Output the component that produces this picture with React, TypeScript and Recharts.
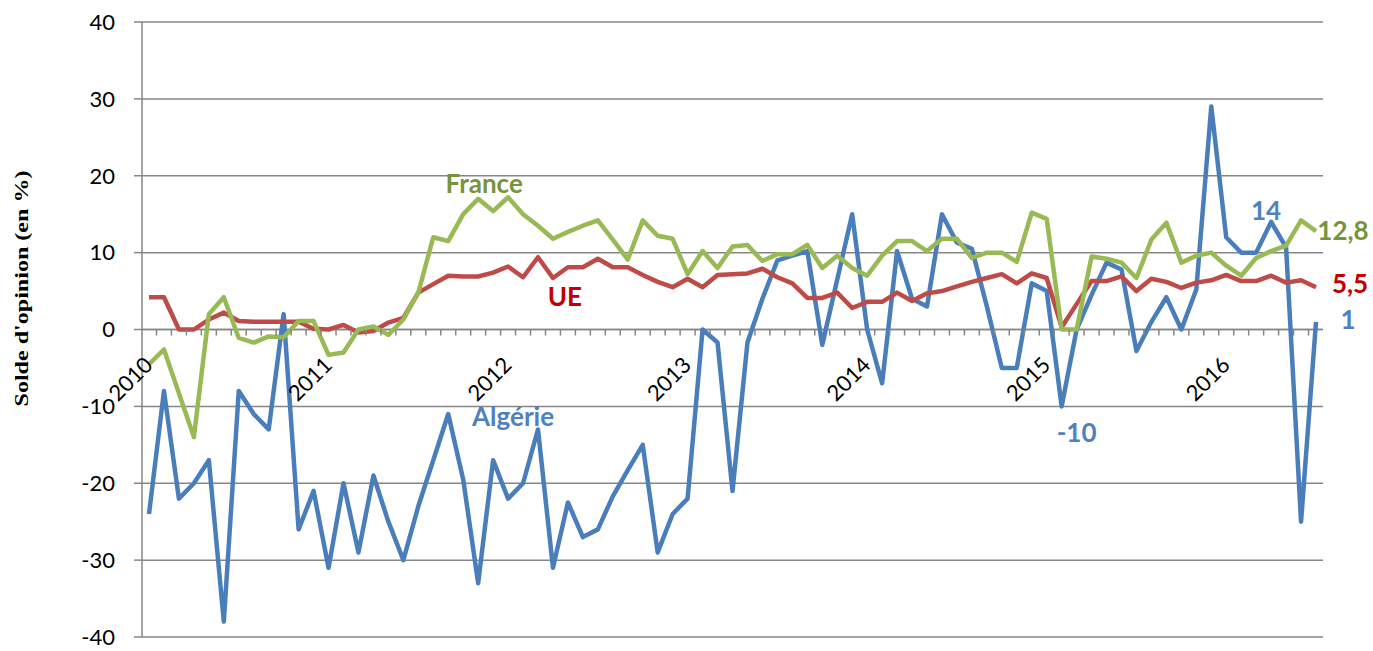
import React from 'react';
import {
  LineChart,
  Line,
  XAxis,
  YAxis,
  CartesianGrid,
  ReferenceLine,
  ReferenceDot,
} from 'recharts';

// monthly categories, Jan 2010 -> Jul 2016
const years = ['2010', '2011', '2012', '2013', '2014', '2015', '2016'];
const lastYearMonths = 7;
const months: string[] = [];
years.forEach((y, yi) => {
  const n = yi === years.length - 1 ? lastYearMonths : 12;
  for (let m = 1; m <= n; m++) months.push(`${y}-${String(m).padStart(2, '0')}`);
});

const algerie = [
  -24, -8, -22, -20, -17, -38, -8, -11, -13, 2, -26, -21,
  -31, -20, -29, -19, -25, -30, -23, -17, -11, -19.5, -33, -17,
  -22, -20, -13, -31, -22.5, -27, -26, -21.7, -18.3, -15, -29, -24,
  -22, 0, -1.7, -21, -1.7, 4, 9, 9.6, 10.2, -2, 6.5, 15,
  0, -7, 10.2, 4, 3, 15, 11.3, 10.5, 3, -5, -5, 6,
  5, -10, 0, 4.5, 8.7, 7.8, -2.8, 1, 4.2, 0, 5.2, 29,
  12, 10, 10, 14, 10.7, -25, 1,
];

const france = [
  -4.5, -2.6, -8.3, -14, 2, 4.2, -1.1, -1.7, -0.9, -1, 1.1, 1.1,
  -3.3, -3, 0, 0.4, -0.7, 1.3, 4.8, 12, 11.5, 15, 17, 15.4,
  17.2, 15, 13.5, 11.8, 12.7, 13.5, 14.2, 11.7, 9.1, 14.2, 12.2, 11.8,
  7.2, 10.2, 8, 10.8, 11, 8.9, 9.8, 9.8, 11, 8, 9.6, 8,
  7, 9.6, 11.5, 11.5, 10.2, 11.8, 11.8, 9.3, 10, 10, 8.8, 15.2,
  14.4, 0, 0, 9.5, 9.2, 8.7, 6.7, 11.7, 13.9, 8.7, 9.6, 10,
  8.3, 7, 9.3, 10.2, 10.9, 14.2, 12.8,
];

const ue = [
  4.2, 4.2, 0, 0, 1.3, 2.2, 1.1, 1, 1, 1, 1, 0.1,
  0, 0.6, -0.4, -0.2, 0.9, 1.5, 4.8, 5.9, 7, 6.9, 6.9, 7.4,
  8.2, 6.8, 9.4, 6.7, 8.1, 8.1, 9.2, 8.1, 8.1, 7.1, 6.2, 5.5,
  6.6, 5.5, 7.1, 7.2, 7.3, 7.9, 6.8, 6, 4.1, 4.1, 4.8, 2.8,
  3.6, 3.6, 4.8, 3.7, 4.7, 5, 5.6, 6.2, 6.7, 7.2, 6, 7.3,
  6.7, 0.3, 3.3, 6.3, 6.3, 6.9, 5, 6.6, 6.2, 5.4, 6.1, 6.4,
  7.1, 6.3, 6.3, 7, 6.1, 6.4, 5.5,
];

const yTicks = [-40, -30, -20, -10, 0, 10, 20, 30, 40];

const notes = [
  { text: 'France', month: '2011-11', value: 19, dx: 6, color: '#77933C' },
  { text: 'UE', month: '2012-05', value: 4.4, dx: -3, color: '#C00000' },
  { text: 'Algérie', month: '2012-01', value: -11.2, dx: 5, color: '#4F81BD' },
  { text: '-10', month: '2015-03', value: -13.3, dx: 0, color: '#4F81BD' },
  { text: '14', month: '2016-04', value: 15.5, dx: -5, color: '#4F81BD' },
  { text: '12,8', month: '2016-07', value: 13, dx: 27, color: '#77933C' },
  { text: '5,5', month: '2016-07', value: 6, dx: 34, color: '#C00000' },
  { text: '1', month: '2016-07', value: 1.4, dx: 32, color: '#4F81BD' },
];

const data = months.map((month, i) => ({
  month,
  algerie: algerie[i],
  france: france[i],
  ue: ue[i],
}));

const W = 1373;
const H = 651;
const MARGIN = { top: 22, right: 50, bottom: 13, left: 0 };
const Y_AXIS_W = 142;
const X_AXIS_H = 1;
const PAD = 7;
const PLOT_H = H - MARGIN.top - MARGIN.bottom - X_AXIS_H;
const ZERO_Y = MARGIN.top + (PLOT_H * 40) / 80;
const STEP = (W - MARGIN.right - Y_AXIS_W - 2 * PAD) / (months.length - 1);
const GRID = '#868686';
const FONT = 'Lato, "Open Sans", sans-serif';

const MonthTick = (props: any) => {
  const { x, payload, index } = props;
  const value: string = payload.value;
  const isJan = value.endsWith('-01');
  const lx = x + 5;
  const ly = ZERO_Y + 37;
  return (
    <g>
      {index < months.length - 1 && (
        <line x1={x + STEP / 2} x2={x + STEP / 2} y1={ZERO_Y} y2={ZERO_Y + 6} stroke={GRID} strokeWidth={1.5} />
      )}
      {isJan && (
        <text
          x={lx}
          y={ly}
          transform={`rotate(-45 ${lx} ${ly})`}
          textAnchor="end"
          fontSize={22}
          fontFamily={FONT}
          fill="#000"
        >
          {value.slice(0, 4)}
        </text>
      )}
    </g>
  );
};

const AxisTitle = (props: any) => {
  const vb = props.viewBox || { x: 0, y: MARGIN.top, height: PLOT_H };
  const cx = 21;
  const cy = vb.y + vb.height / 2 - 41;
  return (
    <text
      x={cx}
      y={cy}
      transform={`rotate(-90 ${cx} ${cy})`}
      textAnchor="middle"
      dominantBaseline="central"
      fontFamily='"Liberation Serif", "Times New Roman", serif'
      fontWeight="bold"
      fontSize={19}
      textLength={236}
      lengthAdjust="spacingAndGlyphs"
      fill="#000"
    >
      Solde d'opinion (en %)
    </text>
  );
};

const App: React.FC = () => {
  return (
    <div style={{ position: 'absolute', left: 0, top: 0, width: W, height: H, background: '#fff' }}>
      <LineChart width={W} height={H} data={data} margin={MARGIN}>
        <CartesianGrid vertical={false} stroke={GRID} strokeWidth={1.5} />
        <XAxis
          dataKey="month"
          height={X_AXIS_H}
          padding={{ left: PAD, right: PAD }}
          axisLine={false}
          tickLine={false}
          interval={0}
          tick={<MonthTick />}
        />
        <YAxis
          domain={[-40, 40]}
          ticks={yTicks}
          width={Y_AXIS_W}
          axisLine={{ stroke: GRID, strokeWidth: 1.5 }}
          tickLine={{ stroke: GRID, strokeWidth: 1.5 }}
          tickSize={8}
          tickMargin={19}
          tick={{ fontSize: 22, fill: '#000', fontFamily: FONT }}
          label={<AxisTitle />}
        />
        <ReferenceLine y={0} stroke={GRID} strokeWidth={1.5} />
        <Line
          type="linear"
          dataKey="algerie"
          stroke="#4A7EBB"
          strokeWidth={4.5}
          dot={false}
          strokeLinejoin="round"
          isAnimationActive={false}
        />
        <Line
          type="linear"
          dataKey="ue"
          stroke="#BE4B48"
          strokeWidth={4.5}
          dot={false}
          strokeLinejoin="round"
          isAnimationActive={false}
        />
        <Line
          type="linear"
          dataKey="france"
          stroke="#98B954"
          strokeWidth={4.5}
          dot={false}
          strokeLinejoin="round"
          isAnimationActive={false}
        />
        {notes.map((n) => (
          <ReferenceDot
            key={n.text}
            x={n.month}
            y={n.value}
            r={0}
            ifOverflow="visible"
            shape={(p: any) => (
              <text
                x={p.cx + n.dx}
                y={p.cy}
                textAnchor="middle"
                dominantBaseline="central"
                fontFamily={FONT}
                fontWeight="bold"
                fontSize={26}
                fill={n.color}
              >
                {n.text}
              </text>
            )}
          />
        ))}
      </LineChart>
    </div>
  );
};

export default App;
